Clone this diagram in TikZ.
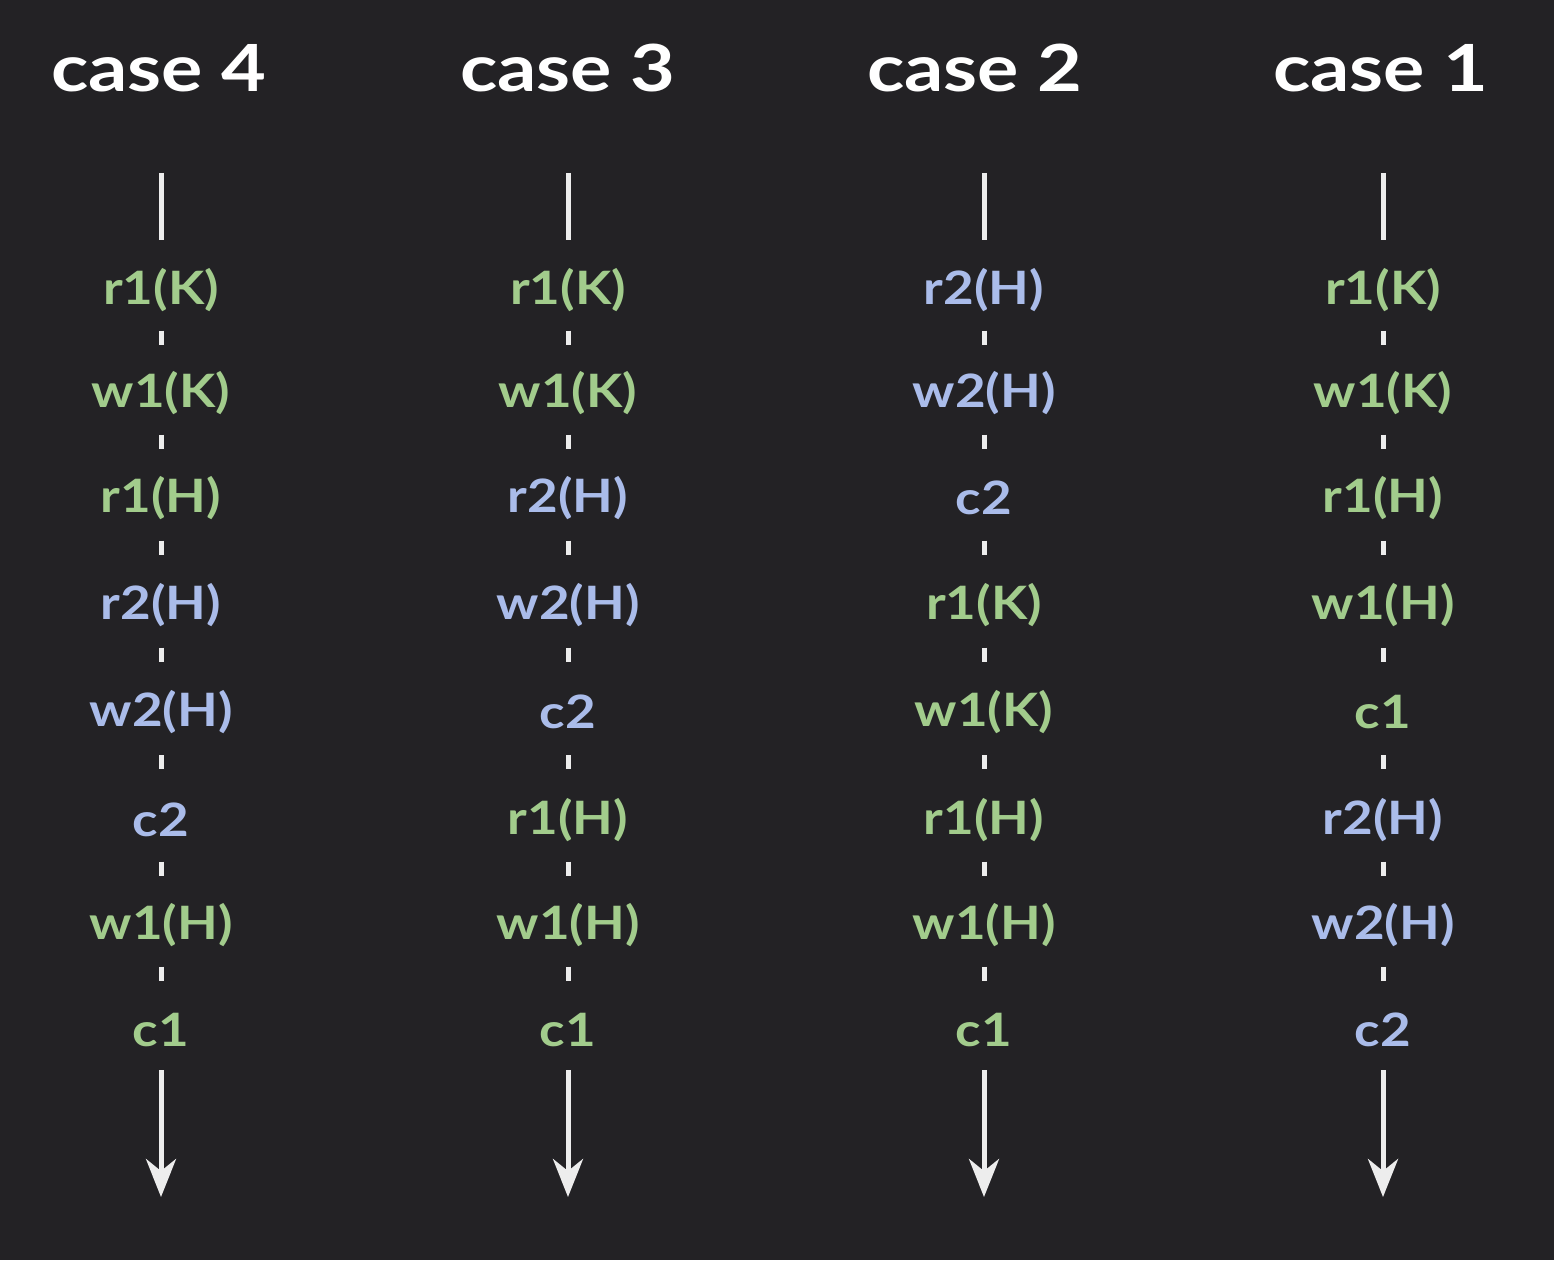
\documentclass[tikz,border=0pt]{standalone}
\usepackage{fontspec}
\setmainfont{Lato}
\newfontfamily\hdrfont[FakeStretch=1.19]{Lato}
\newfontfamily\itmfont[FakeStretch=1.15]{Lato}
\usetikzlibrary{arrows.meta,calc}
\definecolor{bg}{HTML}{232225}
\definecolor{gr}{HTML}{A2CC8C}
\definecolor{bl}{HTML}{AABCEA}
\definecolor{ln}{HTML}{EDEDED}
\tikzset{
  hdr/.style={text=white,font=\hdrfont\fontsize{65}{65}\selectfont\bfseries},
  itm/.style={font=\itmfont\fontsize{46}{46}\selectfont\bfseries,inner sep=0pt},
  g/.style={itm,text=gr},
  b/.style={itm,text=bl},
  solidline/.style={draw=ln,line width=5pt},
  dashseg/.style={draw=ln,line width=5pt},
  downarrow/.style={draw=ln,line width=5pt,-{Stealth[length=38pt,width=30pt,inset=12pt]}},
}
\newcommand{\col}[5]{% #1 x, #2 prefix, #3 header x, #4 header, #5 list of style/text
  \node[hdr] (#2h) at (#3,68) {#4};
  \coordinate (#2t0) at (#1,173);
  \coordinate (#2t1) at (#1,240);
  \draw[solidline] (#2t0) -- (#2t1);
  \foreach \s/\t [count=\i] in {#5} {
    \pgfmathsetmacro{\yy}{{290,393,498,605,712,820,925,1030}[\i-1]}
    \node[\s] (#2n\i) at (#1,\yy) {\t};
  }
  \foreach \i [evaluate=\i as \j using int(\i+1)] in {1,...,7} {
    \draw[dashseg] ($(#2n\i)!0.5!(#2n\j)+(0,-11)$) -- ($(#2n\i)!0.5!(#2n\j)+(0,3)$);
  }
  \coordinate (#2end) at (#1,1197);
  \draw[downarrow] (#1,1070) -- (#2end);
}
\begin{document}
\begin{tikzpicture}[x=1pt,y=-1pt]
\fill[bg] (0,0) rectangle (1554,1260);
\useasboundingbox (0,0) rectangle (1554,1260);
\col{161}{a}{159}{case 4}{g/r1(K),g/w1(K),g/r1(H),b/r2(H),b/w2(H),b/c2,g/w1(H),g/c1}
\col{568}{b}{568}{case 3}{g/r1(K),g/w1(K),b/r2(H),b/w2(H),b/c2,g/r1(H),g/w1(H),g/c1}
\col{984}{c}{975}{case 2}{b/r2(H),b/w2(H),b/c2,g/r1(K),g/w1(K),g/r1(H),g/w1(H),g/c1}
\col{1383}{d}{1381}{case 1}{g/r1(K),g/w1(K),g/r1(H),g/w1(H),g/c1,b/r2(H),b/w2(H),b/c2}
\end{tikzpicture}
\end{document}
